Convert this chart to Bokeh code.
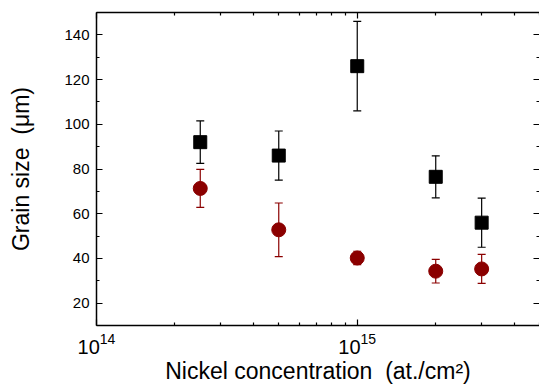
from bokeh.plotting import figure
from bokeh.models import (FixedTicker, LogTickFormatter, LogAxis, LinearAxis,
                          Whisker, TeeHead, ColumnDataSource)
from bokeh.embed import file_html
from bokeh.resources import INLINE

# Data
conc = [2.5e14, 5e14, 1e15, 2e15, 3e15]
sq_vals = [92, 86, 126, 76.5, 56]
sq_err = [9.5, 11, 20, 9.4, 11]
ci_vals = [71.3, 52.8, 40.2, 34.3, 35.3]
ci_err = [8.5, 12, 3, 5.3, 6.5]

x_major = [1e14, 1e15]
x_minor = [2e14, 3e14, 4e14, 5e14, 6e14, 7e14, 8e14, 9e14, 2e15, 3e15, 4e15, 5e15]
y_major = [20, 40, 60, 80, 100, 120, 140]
y_minor = [10, 30, 50, 70, 90, 110, 130, 150]

FONT = "Liberation Sans"
RED = "#8B0000"

p = figure(width=539, height=387, x_axis_type="log",
           x_range=(1e14, 5e15), y_range=(10, 150),
           output_backend="svg", toolbar_location=None,
           min_border_left=96, min_border_right=0,
           min_border_top=12, min_border_bottom=62,
           background_fill_color="white", border_fill_color="white")
p.grid.visible = False
p.outline_line_color = None

def style(ax, labels=True):
    ax.axis_line_width = 1.5
    ax.axis_line_color = "black"
    ax.major_tick_in = 6
    ax.major_tick_out = 0
    ax.minor_tick_in = 3
    ax.minor_tick_out = 0
    ax.major_tick_line_width = 1.2
    ax.minor_tick_line_width = 1.2
    ax.major_label_text_color = "black"
    ax.axis_label_text_color = "black"
    if not labels:
        ax.major_label_text_font_size = "1px"
        ax.major_label_text_alpha = 0
        ax.major_label_standoff = 0

xa = p.xaxis[0]
xa.ticker = FixedTicker(ticks=x_major, minor_ticks=x_minor)
xa.formatter = LogTickFormatter()
style(xa)
xa.major_label_text_font = FONT
xa.major_label_text_font_size = "20px"
xa.major_label_standoff = 7
xa.axis_label = "Nickel concentration\u00a0\u00a0(at./cm²)"
xa.axis_label_text_font = FONT
xa.axis_label_text_font_size = "23px"
xa.axis_label_text_font_style = "normal"
xa.axis_label_standoff = 1

ya = p.yaxis[0]
ya.ticker = FixedTicker(ticks=y_major, minor_ticks=y_minor)
style(ya)
ya.major_label_text_font = FONT
ya.major_label_text_font_size = "15px"
ya.major_label_standoff = 7
ya.axis_label = "Grain size\u00a0\u00a0(μm)"
ya.axis_label_text_font = FONT
ya.axis_label_text_font_size = "23px"
ya.axis_label_text_font_style = "normal"
ya.axis_label_standoff = 27

top = LogAxis(ticker=FixedTicker(ticks=x_major, minor_ticks=x_minor))
style(top, labels=False)
p.add_layout(top, "above")
right = LinearAxis(ticker=FixedTicker(ticks=y_major, minor_ticks=y_minor))
style(right, labels=False)
right.axis_line_color = None
p.add_layout(right, "right")

sq = ColumnDataSource(dict(x=conc, y=sq_vals,
                           lo=[v - e for v, e in zip(sq_vals, sq_err)],
                           hi=[v + e for v, e in zip(sq_vals, sq_err)]))
ci = ColumnDataSource(dict(x=conc, y=ci_vals,
                           lo=[v - e for v, e in zip(ci_vals, ci_err)],
                           hi=[v + e for v, e in zip(ci_vals, ci_err)]))

p.add_layout(Whisker(source=sq, base="x", lower="lo", upper="hi",
                     line_color="black", line_width=1.2,
                     upper_head=TeeHead(size=8, line_color="black", line_width=1.2),
                     lower_head=TeeHead(size=8, line_color="black", line_width=1.2)))
p.add_layout(Whisker(source=ci, base="x", lower="lo", upper="hi",
                     line_color=RED, line_width=1.2,
                     upper_head=TeeHead(size=8, line_color=RED, line_width=1.2),
                     lower_head=TeeHead(size=8, line_color=RED, line_width=1.2)))

p.scatter("x", "y", source=sq, marker="square", size=13,
          fill_color="black", line_color="black")
p.scatter("x", "y", source=ci, marker="circle", size=14,
          fill_color=RED, line_color=RED)

open("out.html", "w").write(file_html(p, INLINE))
